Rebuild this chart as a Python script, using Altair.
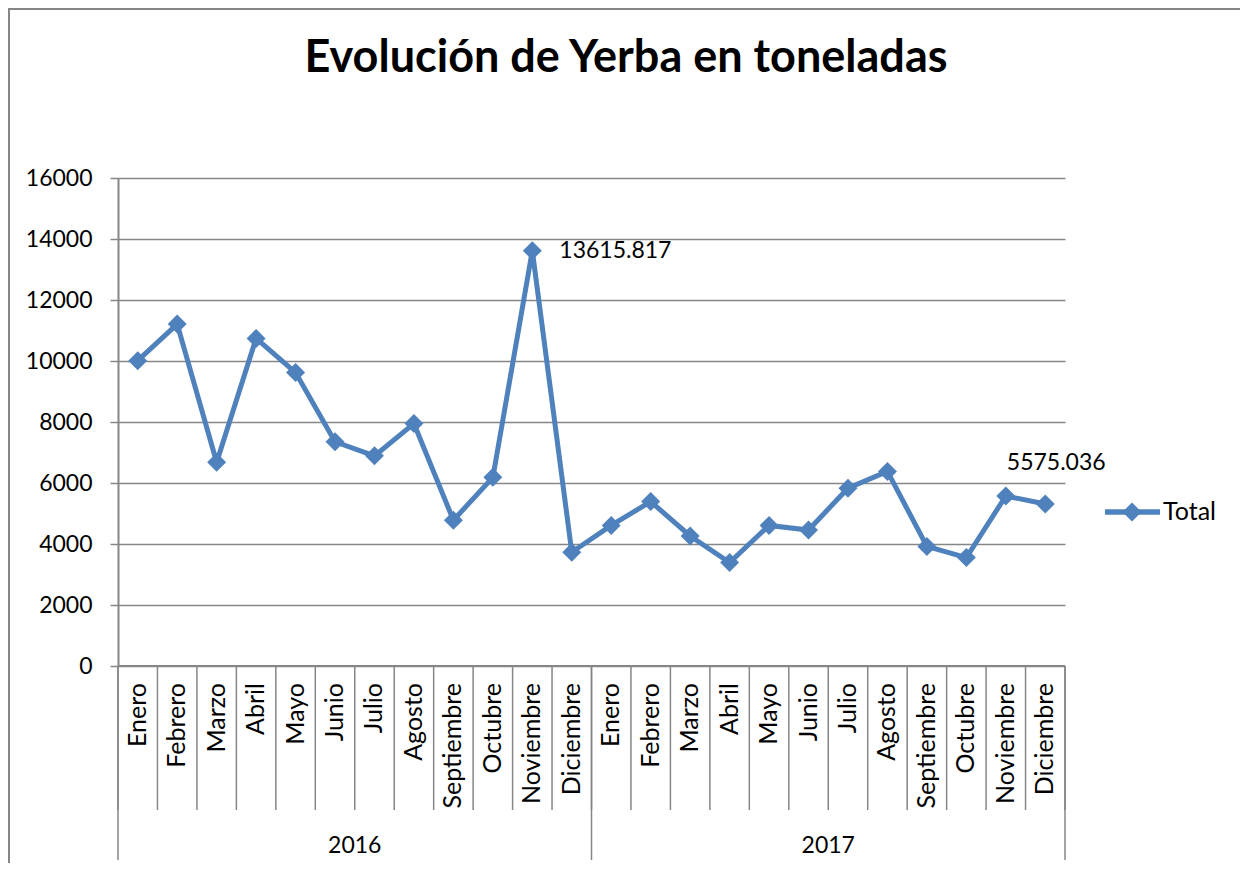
import altair as alt
import pandas as pd

months = ["Enero", "Febrero", "Marzo", "Abril", "Mayo", "Junio", "Julio",
          "Agosto", "Septiembre", "Octubre", "Noviembre", "Diciembre"]
years = ["2016", "2017"]
values_2016 = [10010, 11210, 6680, 10740, 9620, 7350, 6890, 7950, 4780, 6185, 13615.817, 3730]
values_2017 = [4610, 5390, 4262, 3395, 4610, 4459, 5830, 6380, 3920, 3555, 5575.036, 5311]
labelled = [(0, 10), (1, 10)]  # (year index, month index) with data labels

FONT = "Lato"
BLUE = "#4F81BD"
GRID = "#868686"
W, H = 947, 488

rows = []
for yi, vals in enumerate([values_2016, values_2017]):
    for mi, v in enumerate(vals):
        rows.append({"pos": yi * 12 + mi + 0.5, "month": months[mi], "year": years[yi],
                     "value": v, "lab": (yi, mi) in labelled})
df = pd.DataFrame(rows)
seps = pd.DataFrame({"pos": list(range(25))})
yseps = pd.DataFrame({"pos": [0, 12, 24]})
ylab = pd.DataFrame({"pos": [6, 18], "year": years})

xs = alt.Scale(domain=[0, 24], nice=False, zero=False)
ys = alt.Scale(domain=[0, 16000], nice=False)
X = alt.X("pos:Q", scale=xs, axis=None)

base = alt.Chart(df)

grid = base.mark_line(opacity=0).encode(
    x=X,
    y=alt.Y("value:Q", scale=ys, title=None,
            axis=alt.Axis(values=list(range(0, 16001, 2000)), format="d",
                          grid=True, gridColor=GRID, gridWidth=1.5,
                          domainColor=GRID, domainWidth=2,
                          tickColor=GRID, tickWidth=1.5, tickSize=8,
                          labelFont=FONT, labelFontSize=23, labelColor="black",
                          labelPadding=18)),
)

sep_rules = alt.Chart(seps).mark_rule(color=GRID, strokeWidth=1.5).encode(
    x=X, y=alt.value(H), y2=alt.value(810 - 178))
ysep_rules = alt.Chart(yseps).mark_rule(color=GRID, strokeWidth=1.5).encode(
    x=X, y=alt.value(H), y2=alt.value(682))
bottom = alt.Chart(seps).mark_rule(color=GRID, strokeWidth=2).encode(
    x=alt.value(0), x2=alt.value(W), y=alt.value(H))

month_text = base.mark_text(angle=270, align="right", baseline="middle",
                            font=FONT, fontSize=25, color="black").encode(
    x=X, y=alt.value(683 - 178), text="month:N")
year_text = alt.Chart(ylab).mark_text(align="center", baseline="middle",
                                      font=FONT, fontSize=23, color="black").encode(
    x=X, y=alt.value(846 - 178), text="year:N")

line = base.mark_line(color=BLUE, strokeWidth=5).encode(
    x=X, y=alt.Y("value:Q", scale=ys))
pts = base.mark_point(shape="diamond", filled=True, color=BLUE, size=360, opacity=1).encode(
    x=X, y=alt.Y("value:Q", scale=ys))

lab1 = base.transform_filter("datum.lab && datum.year == '2016'").mark_text(
    align="left", baseline="middle", dx=27, font=FONT, fontSize=23, color="black").encode(
    x=X, y=alt.Y("value:Q", scale=ys), text=alt.Text("value:Q", format=".3f"))
lab2 = base.transform_filter("datum.lab && datum.year == '2017'").mark_text(
    align="left", baseline="middle", dx=1, dy=-33, font=FONT, fontSize=23, color="black").encode(
    x=X, y=alt.Y("value:Q", scale=ys), text=alt.Text("value:Q", format=".3f"))

# legend
leg_line = alt.Chart(ylab).mark_rule(color=BLUE, strokeWidth=5).encode(
    x=alt.value(1105 - 118), x2=alt.value(1160 - 118), y=alt.value(512 - 178))
leg_pt = alt.Chart(pd.DataFrame({"k": ["Total"]})).mark_point(
    shape="diamond", filled=True, color=BLUE, size=360, opacity=1).encode(
    x=alt.value(1132 - 118), y=alt.value(512 - 178))
leg_txt = alt.Chart(pd.DataFrame({"k": ["Total"]})).mark_text(
    align="left", baseline="middle", font=FONT, fontSize=25, color="black").encode(
    x=alt.value(1163 - 118), y=alt.value(512 - 178), text="k:N")

title = alt.Chart(pd.DataFrame({"t": ["Evolución de Yerba en toneladas"]})).mark_text(
    align="center", baseline="middle", font=FONT, fontSize=45, fontWeight="bold",
    color="black").encode(x=alt.value(626 - 118), y=alt.value(58 - 178), text="t:N")

frame = alt.Chart(pd.DataFrame({"k": [1]})).mark_rect(
    fill="white", fillOpacity=0, stroke=GRID, strokeWidth=2).encode(
    x=alt.value(9 - 118), x2=alt.value(1241 - 118),
    y=alt.value(9 - 178), y2=alt.value(760))

chart = alt.layer(
    frame, grid, sep_rules, ysep_rules, bottom, month_text, year_text,
    line, pts, lab1, lab2, leg_line, leg_pt, leg_txt, title
).properties(
    width=W, height=H,
    autosize=alt.AutoSizeParams(type="none"),
    padding={"left": 110, "top": 170, "right": 175, "bottom": 197},
    background="white",
).configure_view(strokeWidth=0)

chart.save("out.html", embed_options={"renderer": "svg", "actions": False})
